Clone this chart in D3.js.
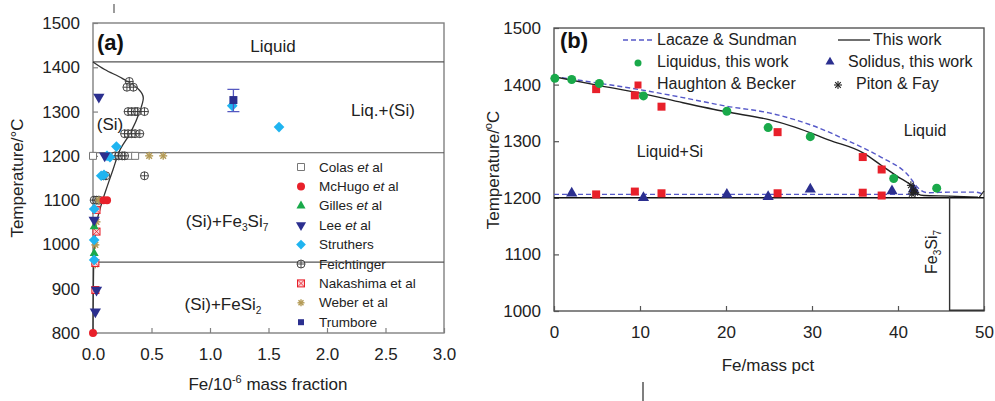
<!DOCTYPE html>
<html><head><meta charset="utf-8">
<script src="https://cdn.jsdelivr.net/npm/d3@7"></script>
<style>body{margin:0;background:#fff}svg{display:block}text{font-family:"Liberation Sans",Arial,sans-serif}</style>
</head><body><svg id="c" width="995" height="401"></svg>
<script>
// ---------- Panel (a) data: Fe (10^-6 mass fraction), T (°C) ----------
const aXTicks = [0, 0.5, 1, 1.5, 2, 2.5, 3];
const aYTicks = [800, 900, 1000, 1100, 1200, 1300, 1400, 1500];
const aSolvus = [[0,1412],[0.1,1395],[0.25,1375],[0.36,1357],[0.42,1340],[0.43,1330],[0.4,1300],[0.32,1252],[0.23,1213],[0.17,1168],[0.12,1130],[0.074,1093],[0.03,1048],[0.01,988],[0.003,900],[0,800]];
const aLines = [1412, 1207, 960];
const colas = [[0.0,1200],[0.31,1200],[0.36,1200]];
const mchugo = [[0.12,1100],[0.09,1100],[0.0,800]];
const gilles = [[0.01,1040],[0.01,980]];
const lee = [[0.05,1333],[0.1,1200],[0.03,897],[0.02,848],[0.01,1055]];
const struthers = [[1.59,1265],[1.19,1313],[0.2,1221],[0.145,1197],[0.12,1200],[0.094,1157],[0.07,1155],[0.01,1080],[0.01,1010],[0.01,965]];
const feichtinger = [[0.31,1368],[0.29,1355],[0.345,1355],[0.3,1300],[0.33,1300],[0.36,1300],[0.38,1300],[0.44,1300],[0.27,1250],[0.3,1250],[0.33,1250],[0.36,1250],[0.4,1250],[0.19,1200],[0.22,1200],[0.25,1200],[0.27,1200],[0.44,1155],[0.09,1155],[0.11,1155],[0.01,1100],[0.03,1100],[0.05,1100]];
const nakashima = [[0.03,1078],[0.03,1029],[0.02,958],[0.02,897]];
const weber = [[0.48,1200],[0.6,1200],[0.05,1100],[0.03,1051],[0.02,999],[0.02,955]];
const trumbore = [[1.2,1326]];
const trumboreErr = [[1.2,1300,1350]];
const aLegend = ["Colas et al","McHugo et al","Gilles et al","Lee et al","Struthers","Feichtinger","Nakashima et al","Weber et al","Trumbore"];

// ---------- Panel (b) data: Fe (mass pct), T (°C) ----------
const bXTicks = [0, 10, 20, 30, 40, 50];
const bYTicks = [1000, 1100, 1200, 1300, 1400, 1500];
const thisLiq = [[0,1414],[5,1399],[10,1385],[15,1368],[20,1352],[25,1338],[28,1325],[32,1302],[36,1279],[38,1258],[40,1237],[41.7,1219],[42.3,1207],[43,1204],[46,1203],[49.3,1201]];
const thisLiq2 = [[49.4,1200],[50,1212]];
const thisSol = [[0,1200],[50,1200]];
const lacLiq = [[0,1414],[5,1403],[10,1391],[15,1377],[20,1362],[25,1350],[28,1338],[30,1328],[34,1302],[38,1272],[41,1243],[42.6,1214],[43.5,1209],[46,1210],[49,1210],[50,1206]];
const lacSol = [[0,1206],[42.6,1206]];
const fe3si7 = [[46,1203],[46,1000]];
const liqThis = [[0.1,1411],[2.06,1409],[5.27,1402],[10.4,1380],[20.1,1353],[24.9,1324],[29.8,1308],[39.5,1234],[44.5,1217]];
const solThis = [[2.06,1208],[10.4,1200],[20.1,1206],[24.9,1202],[29.8,1215],[39.3,1212],[41.8,1215]];
const haughton = [[4.9,1392],[9.4,1381],[12.5,1361],[26,1316],[35.9,1272],[38.1,1250],[4.9,1206],[9.4,1211],[12.5,1208],[26,1208],[35.9,1209],[38.1,1204]];
const piton = [[41.5,1222],[41.8,1214],[42.0,1209],[41.6,1207]];

const svg = d3.select("#c");
const RED="#e8202a", GREEN="#19a94a", NAVY="#2b2f8f", CYAN="#1fb4f0", GOLD="#b39a55", DASH="#5558c8";

// ---------- symbol helpers ----------
function sym(g, type, x, y, s, opt){
  const o = Object.assign({fill:"none",stroke:"none",sw:1},opt||{});
  if(type==="asterisk"){
    const r=s/2, gg=g.append("g").attr("stroke",o.stroke).attr("stroke-width",o.sw);
    for(let k=0;k<4;k++){const a=k*Math.PI/4;gg.append("line").attr("x1",x-r*Math.cos(a)).attr("y1",y-r*Math.sin(a)).attr("x2",x+r*Math.cos(a)).attr("y2",y+r*Math.sin(a));}
    return;
  }
  if(type==="circplus"){
    const r=s/2; g.append("circle").attr("cx",x).attr("cy",y).attr("r",r).attr("fill","#fff").attr("fill-opacity",0.3).attr("stroke",o.stroke).attr("stroke-width",o.sw);
    g.append("path").attr("d",`M${x-r},${y}H${x+r}M${x},${y-r}V${y+r}`).attr("stroke",o.stroke).attr("stroke-width",o.sw);
    return;
  }
  if(type==="sqx"){
    const r=s/2; g.append("rect").attr("x",x-r).attr("y",y-r).attr("width",s).attr("height",s).attr("fill","#fbd0d4").attr("stroke",o.stroke).attr("stroke-width",o.sw);
    g.append("path").attr("d",`M${x-r},${y-r}L${x+r},${y+r}M${x+r},${y-r}L${x-r},${y+r}`).attr("stroke",o.stroke).attr("stroke-width",0.8);
    return;
  }
  const map={circle:d3.symbolCircle,square:d3.symbolSquare,triangle:d3.symbolTriangle,diamond:d3.symbolDiamond2};
  let t=type, rot=0;
  if(type==="tridown"){t="triangle";rot=180;}
  const area = type==="circle"? Math.PI*(s/2)*(s/2) : type==="square"? s*s : type==="diamond"? s*s*0.6 : s*s*0.55;
  g.append("path").attr("d",d3.symbol(map[t],area)()).attr("transform",`translate(${x},${y}) rotate(${rot})`)
   .attr("fill",o.fill).attr("stroke",o.stroke).attr("stroke-width",o.sw);
}

// ================= PANEL A =================
const xA = d3.scaleLinear([0,3],[93,444]);
const yA = d3.scaleLinear([800,1500],[333,23]);
const gA = svg.append("g");
const FR="#808080";
gA.append("rect").attr("x",93).attr("y",23).attr("width",351).attr("height",310).attr("fill","none").attr("stroke",FR).attr("stroke-width",1.4);
aLines.forEach(t=>gA.append("line").attr("x1",xA(0)).attr("x2",xA(3)).attr("y1",yA(t)).attr("y2",yA(t)).attr("stroke","#555").attr("stroke-width",1.2));
const axA = gA.append("g").attr("transform","translate(0,333)").call(d3.axisBottom(xA).tickValues(aXTicks).tickFormat(d3.format(".1f")).tickSizeInner(-5).tickSizeOuter(0).tickPadding(15));
const ayA = gA.append("g").attr("transform","translate(93,0)").call(d3.axisLeft(yA).tickValues(aYTicks).tickFormat(d3.format("d")).tickSizeInner(-5).tickSizeOuter(0).tickPadding(13));
[axA,ayA].forEach(a=>{a.select(".domain").remove();a.selectAll("line").attr("stroke",FR).attr("stroke-width",1.2);a.selectAll("text").attr("font-size",17).attr("fill","#222").attr("font-family","Liberation Sans, Arial, sans-serif");});
// solvus curve
gA.append("path").datum(aSolvus).attr("d",d3.line().x(d=>xA(d[0])).y(d=>yA(d[1])).curve(d3.curveCatmullRom)).attr("fill","none").attr("stroke","#333").attr("stroke-width",1.3);
// data
colas.forEach(d=>sym(gA,"square",xA(d[0]),yA(d[1]),7,{fill:"#fff",stroke:"#777",sw:1}));
feichtinger.forEach(d=>sym(gA,"circplus",xA(d[0]),yA(d[1]),8,{stroke:"#333",sw:0.9}));
weber.forEach(d=>sym(gA,"asterisk",xA(d[0]),yA(d[1]),8,{stroke:GOLD,sw:1.4}));
nakashima.forEach(d=>sym(gA,"sqx",xA(d[0]),yA(d[1]),7,{stroke:RED,sw:1}));
mchugo.forEach(d=>sym(gA,"circle",xA(d[0]),yA(d[1]),8,{fill:RED}));
gilles.forEach(d=>sym(gA,"triangle",xA(d[0]),yA(d[1]),8,{fill:GREEN}));
struthers.forEach(d=>sym(gA,"diamond",xA(d[0]),yA(d[1]),11,{fill:CYAN}));
lee.forEach(d=>sym(gA,"tridown",xA(d[0]),yA(d[1]),10,{fill:NAVY}));
trumboreErr.forEach(d=>{
  const x=xA(d[0]);
  gA.append("path").attr("d",`M${x},${yA(d[1])}V${yA(d[2])}M${x-6},${yA(d[1])}H${x+6}M${x-6},${yA(d[2])}H${x+6}`).attr("stroke","#5558c0").attr("stroke-width",1.3).attr("fill","none");
});
trumbore.forEach(d=>sym(gA,"square",xA(d[0]),yA(d[1]),8,{fill:NAVY}));
// region labels
function txt(g,x,y,s,size,anchor){return g.append("text").attr("x",x).attr("y",y).attr("font-size",size||17).attr("text-anchor",anchor||"middle").attr("fill","#222").text(s);}
txt(gA,273,52,"Liquid");
txt(gA,383,116,"Liq.+(Si)");
txt(gA,110,130,"(Si)");
function subLabel(g,x,y,parts,size){
  const t=g.append("text").attr("x",x).attr("y",y).attr("font-size",size).attr("text-anchor","middle").attr("fill","#222");
  parts.forEach(p=>{const ts=t.append("tspan").text(p[0]); if(p[1]){ts.attr("font-size",size*0.6).attr("dy",4);} else if(p[2]){ts.attr("dy",-4);} });
  return t;
}
subLabel(gA,227,227,[["(Si)+Fe"],["3",1],["Si",0,1],["7",1]],17);
subLabel(gA,223,310,[["(Si)+FeSi"],["2",1]],17);
gA.append("text").attr("x",97).attr("y",50).attr("font-family","Liberation Serif, Times New Roman, serif").attr("font-weight","bold").attr("font-size",22).attr("fill","#111").text("(a)");
// legend a
const aSyms = [["square",{fill:"#fff",stroke:"#777",sw:1},7],["circle",{fill:RED},8],["triangle",{fill:GREEN},8],["tridown",{fill:NAVY},9],["diamond",{fill:CYAN},10],["circplus",{stroke:"#333",sw:0.9},8],["sqx",{stroke:RED,sw:1},7],["asterisk",{stroke:GOLD,sw:1.4},7],["square",{fill:NAVY},6]];
aLegend.forEach((s,i)=>{
  const y=167+19.4*i;
  sym(gA,aSyms[i][0],301,y,aSyms[i][2],aSyms[i][1]);
  const t=gA.append("text").attr("x",319).attr("y",y+4.5).attr("font-size",13.5).attr("fill","#222");
  const m=s.match(/^(.*) et al$/);
  if(m && i<4){t.append("tspan").text(m[1]+" ");t.append("tspan").attr("font-style","italic").text("et");t.append("tspan").text(" al");}
  else t.text(s);
});
// axis titles a
gA.append("text").attr("transform","translate(23,178) rotate(-90)").attr("text-anchor","middle").attr("font-size",17).attr("fill","#222").text("Temperature/°C");
const xt=gA.append("text").attr("x",268).attr("y",390).attr("text-anchor","middle").attr("font-size",17).attr("fill","#222");
xt.append("tspan").text("Fe/10");xt.append("tspan").attr("font-size",11).attr("dy",-7).text("-6");xt.append("tspan").attr("dy",7).text(" mass fraction");
// stray mark
gA.append("line").attr("x1",114).attr("x2",114).attr("y1",4).attr("y2",13).attr("stroke","#666").attr("stroke-width",1.3);

// ================= PANEL B =================
const xB = d3.scaleLinear([0,50],[554,984]);
const yB = d3.scaleLinear([1000,1500],[311,28]);
const gB = svg.append("g");
const FB="#555";
gB.append("rect").attr("x",554).attr("y",28).attr("width",430).attr("height",283).attr("fill","none").attr("stroke",FB).attr("stroke-width",1.4);
const axB = gB.append("g").attr("transform","translate(0,311)").call(d3.axisBottom(xB).tickValues(bXTicks).tickFormat(d3.format("d")).tickSizeInner(-5).tickSizeOuter(0).tickPadding(15));
const ayB = gB.append("g").attr("transform","translate(554,0)").call(d3.axisLeft(yB).tickValues(bYTicks).tickFormat(d3.format("d")).tickSizeInner(-5).tickSizeOuter(0).tickPadding(13));
[axB,ayB].forEach(a=>{a.select(".domain").remove();a.selectAll("line").attr("stroke",FB).attr("stroke-width",1.2);a.selectAll("text").attr("font-size",17).attr("fill","#222").attr("font-family","Liberation Sans, Arial, sans-serif");});
gB.append("path").datum(lacLiq).attr("d",d3.line().x(d=>xB(d[0])).y(d=>yB(d[1])).curve(d3.curveMonotoneX)).attr("fill","none").attr("stroke",DASH).attr("stroke-width",1.4).attr("stroke-dasharray","5,3");
gB.append("path").datum(lacSol).attr("d",d3.line().x(d=>xB(d[0])).y(d=>yB(d[1]))).attr("fill","none").attr("stroke",DASH).attr("stroke-width",1.4).attr("stroke-dasharray","5,3");
gB.append("path").datum(thisLiq).attr("d",d3.line().x(d=>xB(d[0])).y(d=>yB(d[1])).curve(d3.curveMonotoneX)).attr("fill","none").attr("stroke","#222").attr("stroke-width",1.4);
gB.append("path").datum(thisLiq2).attr("d",d3.line().x(d=>xB(d[0])).y(d=>yB(d[1]))).attr("fill","none").attr("stroke","#222").attr("stroke-width",1.2);
gB.append("path").datum(thisSol).attr("d",d3.line().x(d=>xB(d[0])).y(d=>yB(d[1]))).attr("fill","none").attr("stroke","#111").attr("stroke-width",1.6);
gB.append("path").datum(fe3si7).attr("d",d3.line().x(d=>xB(d[0])).y(d=>yB(d[1]))).attr("fill","none").attr("stroke","#333").attr("stroke-width",1.4);
gB.append("line").attr("x1",xB(46)).attr("x2",xB(50)).attr("y1",yB(1000)-0.8).attr("y2",yB(1000)-0.8).attr("stroke","#333").attr("stroke-width",1.6);
haughton.forEach(d=>sym(gB,"square",xB(d[0]),yB(d[1]),8,{fill:RED}));
liqThis.forEach(d=>sym(gB,"circle",xB(d[0]),yB(d[1]),9,{fill:GREEN}));
solThis.forEach(d=>sym(gB,"triangle",xB(d[0]),yB(d[1]),10,{fill:NAVY}));
piton.forEach(d=>sym(gB,"asterisk",xB(d[0]),yB(d[1]),8,{stroke:"#222",sw:1.1}));
// labels b
gB.append("text").attr("x",560).attr("y",48).attr("font-family","Liberation Serif, Times New Roman, serif").attr("font-weight","bold").attr("font-size",22).attr("fill","#111").text("(b)");
txt(gB,670,157,"Liquid+Si",16);
txt(gB,925,136,"Liquid",16);
const fr=gB.append("text").attr("transform","translate(937,252) rotate(-90)").attr("text-anchor","middle").attr("font-size",16).attr("fill","#222");
fr.append("tspan").text("Fe");fr.append("tspan").attr("font-size",10).attr("dy",4).text("3");fr.append("tspan").attr("dy",-4).text("Si");fr.append("tspan").attr("font-size",10).attr("dy",4).text("7");
// legend b
gB.append("line").attr("x1",623).attr("x2",653).attr("y1",40).attr("y2",40).attr("stroke",DASH).attr("stroke-width",1.3).attr("stroke-dasharray","5,3");
txt(gB,657,45,"Lacaze & Sundman",16,"start");
gB.append("line").attr("x1",838).attr("x2",870).attr("y1",40).attr("y2",40).attr("stroke","#222").attr("stroke-width",1.3);
txt(gB,873,45,"This work",16,"start");
sym(gB,"circle",638,63,7,{fill:GREEN});
txt(gB,657,67,"Liquidus, this work",16,"start");
sym(gB,"triangle",830,62,8,{fill:NAVY});
txt(gB,848,67,"Solidus, this work",16,"start");
sym(gB,"square",638,85,7,{fill:RED});
txt(gB,657,89,"Haughton & Becker",16,"start");
sym(gB,"asterisk",838,85,8,{stroke:"#222",sw:1.1});
txt(gB,856,89,"Piton & Fay",16,"start");
// axis titles b
const yt=gB.append("text").attr("transform","translate(499,170) rotate(-90)").attr("text-anchor","middle").attr("font-size",17).attr("fill","#222");
yt.append("tspan").text("Temperature/");yt.append("tspan").attr("font-size",11).attr("dy",-7).text("o");yt.append("tspan").attr("dy",7).text("C");
txt(gB,768,371,"Fe/mass pct",17);
gB.append("line").attr("x1",643).attr("x2",643).attr("y1",382).attr("y2",401).attr("stroke","#555").attr("stroke-width",1.5);
</script></body></html>
